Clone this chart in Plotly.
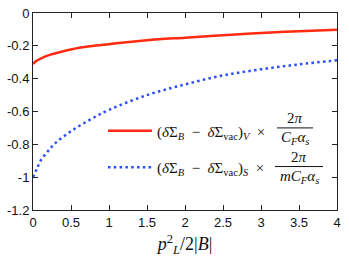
import plotly.graph_objects as go

# data
x_vals = [0, 0.05, 0.1, 0.2, 0.3, 0.5, 0.75, 1.0, 1.5, 2.0, 2.5, 3.0, 3.5, 4.0]
red_v = [-0.31, -0.29, -0.278, -0.258, -0.245, -0.222, -0.203, -0.19, -0.166, -0.15, -0.135, -0.122, -0.111, -0.102]
blue_s = [-1.0, -0.95, -0.90, -0.84, -0.79, -0.72, -0.65, -0.59, -0.50, -0.435, -0.38, -0.343, -0.313, -0.288]
y_ticks = [0, -0.2, -0.4, -0.6, -0.8, -1.0, -1.2]
y_tick_text = ["0", "-0.2", "-0.4", "-0.6", "-0.8", "-1", "-1.2"]
x_ticks = [0, 0.5, 1, 1.5, 2, 2.5, 3, 3.5, 4]
x_tick_text = ["0", "0.5", "1", "1.5", "2", "2.5", "3", "3.5", "4"]

W, H = 349, 257
L, R, T, B = 33, 12, 6, 47
PW, PH = W - L - R, H - T - B


def px(x):
    return (x - L) / PW


def py(y):
    return (H - B - y) / PH


SERIF = "Liberation Serif"
RED = "#ff2a10"
BLUE = "#2b4cff"
SP = "\u2002"

fig = go.Figure()
fig.add_trace(go.Scatter(
    x=x_vals, y=red_v, mode="lines",
    line=dict(color=RED, width=2.5, shape="spline"),
    name=f"(<i>δ</i>Σ<sub><i>B</i></sub>{SP}−{SP}<i>δ</i>Σ<sub>vac</sub>)<sub><i>V</i></sub>{SP}×",
    legendgroup="a",
))
fig.add_trace(go.Scatter(
    x=x_vals, y=blue_s, mode="lines",
    line=dict(color=BLUE, width=2.5, dash="2.5px,3.3px", shape="spline"),
    name=f"(<i>δ</i>Σ<sub><i>B</i></sub>{SP}−{SP}<i>δ</i>Σ<sub>vac</sub>)<sub><i>S</i></sub>{SP}×",
    legendgroup="b",
))

axis_common = dict(
    showgrid=False, zeroline=False, showline=True, linecolor="#222", linewidth=1,
    mirror="ticks", ticks="inside", ticklen=5, tickcolor="#222", tickwidth=1,
    tickfont=dict(family="Liberation Sans", size=13, color="#111"),
    ticklabeloverflow="allow",
)

fig.update_layout(
    width=W, height=H,
    margin=dict(l=L, r=R, t=T, b=B),
    paper_bgcolor="white", plot_bgcolor="white",
    xaxis=dict(range=[0, 4], tickvals=x_ticks, ticktext=x_tick_text,
               title=dict(text="<i>p</i><sup>2</sup><sub><i>L</i></sub>/2|<i>B</i>|",
                          font=dict(family=SERIF, size=18, color="#111"), standoff=9),
               **axis_common),
    yaxis=dict(range=[-1.2, 0], tickvals=y_ticks, ticktext=y_tick_text, **axis_common),
    showlegend=True,
    legend=dict(x=px(103), y=py(111), xanchor="left", yanchor="top",
                bgcolor="rgba(0,0,0,0)", traceorder="grouped", tracegroupgap=14,
                font=dict(family=SERIF, size=15, color="#111"), itemwidth=44),
)

# fractions next to the legend entries: (centre x, bar y, numerator, denominator, bar x0, bar x1)
fracs = [
    (295, 125, "2<i>π</i>", "<i>C</i><sub><i>F</i></sub><i>α</i><sub><i>s</i></sub>", 277, 313),
    (299, 165, "2<i>π</i>", "<i>mC</i><sub><i>F</i></sub><i>α</i><sub><i>s</i></sub>", 275, 323),
]
for cx, by, num, den, x0, x1 in fracs:
    fig.add_annotation(x=px(cx), y=py(by - 0.5), xref="paper", yref="paper", text=num,
                       xanchor="center", yanchor="bottom", borderpad=0,
                       showarrow=False, font=dict(family=SERIF, size=15, color="#111"))
    fig.add_annotation(x=px(cx), y=py(by + 0.5), xref="paper", yref="paper", text=den,
                       xanchor="center", yanchor="top", borderpad=0,
                       showarrow=False, font=dict(family=SERIF, size=15, color="#111"))
    fig.add_shape(type="line", xref="paper", yref="paper", x0=px(x0), x1=px(x1),
                  y0=py(by), y1=py(by), line=dict(color="#111", width=1))

fig.write_html("out.html", config={"displayModeBar": False},
               post_script="document.body.style.margin='0';")
